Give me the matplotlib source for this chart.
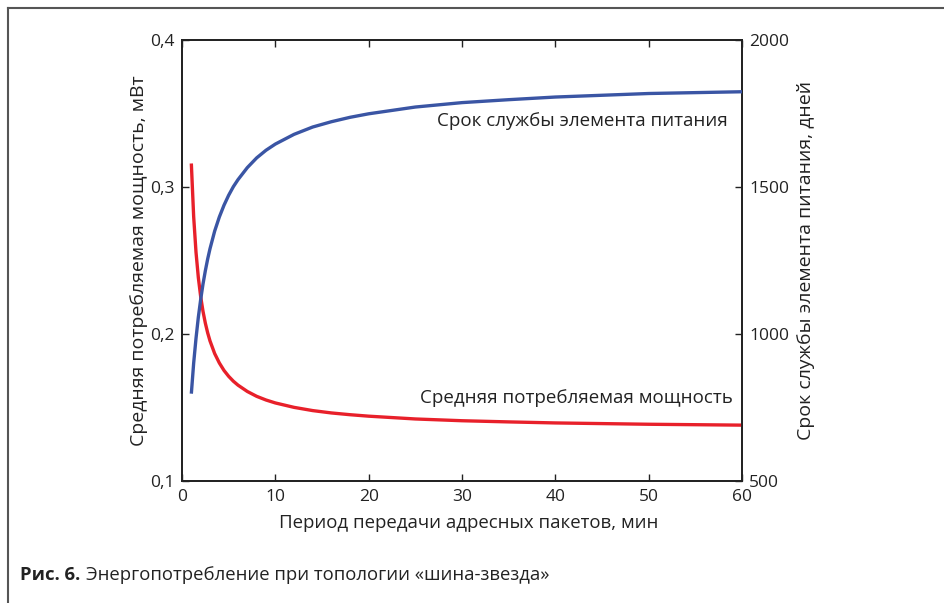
import matplotlib
matplotlib.use("Agg")
import matplotlib.pyplot as plt
from matplotlib.lines import Line2D

plt.rcParams['font.family'] = ['Open Sans', 'DejaVu Sans']

period = [1, 1.25, 1.5, 1.75, 2, 2.25, 2.5, 2.75, 3, 3.5, 4, 4.5, 5, 5.5, 6, 7, 8, 9,
          10, 12, 14, 16, 18, 20, 25, 30, 35, 40, 50, 60]
power = [0.3160, 0.2798, 0.2557, 0.2384, 0.2255, 0.2154, 0.2074, 0.2008, 0.1953, 0.1867,
         0.1803, 0.1752, 0.1712, 0.1679, 0.1652, 0.1609, 0.1576, 0.1551,
         0.1531, 0.1501, 0.1479, 0.1463, 0.1451, 0.1441, 0.1422, 0.1410, 0.1402, 0.1395,
         0.1386, 0.1380]
lifetime = [797, 901, 985, 1057, 1117, 1170, 1215, 1255, 1290, 1350,
            1398, 1438, 1472, 1501, 1525, 1566, 1599, 1625,
            1646, 1679, 1704, 1722, 1737, 1749, 1772, 1787, 1797, 1806, 1818, 1824]
x_ticks = [0, 10, 20, 30, 40, 50, 60]
left_ticks = [0.1, 0.2, 0.3, 0.4]
left_labels = ['0,1', '0,2', '0,3', '0,4']
right_ticks = [500, 1000, 1500, 2000]

W, H = 944, 603
fig = plt.figure(figsize=(W / 100, H / 100), dpi=100)
ax = fig.add_axes([182 / W, 1 - 481 / H, (742 - 182) / W, (481 - 40) / H])
ax2 = ax.twinx()

red = '#e8202a'
blue = '#3a55a4'
ink = '#222222'

ax.plot(period, power, color=red, lw=2.4, solid_capstyle='butt',
        solid_joinstyle='round', zorder=3)
ax2.plot(period, lifetime, color=blue, lw=2.4, solid_capstyle='butt',
         solid_joinstyle='round', zorder=3)

ax.set_xlim(0, 60)
ax.set_ylim(0.1, 0.4)
ax2.set_ylim(500, 2000)
ax.set_xticks(x_ticks)
ax.set_yticks(left_ticks)
ax.set_yticklabels(left_labels)
ax2.set_yticks(right_ticks)

for a in (ax, ax2):
    for s in a.spines.values():
        s.set_linewidth(1.3)
        s.set_color(ink)

ax.tick_params(axis='x', direction='in', top=True, length=5, width=1, labelsize=12.5,
               colors=ink, pad=6)
ax.tick_params(axis='y', direction='in', length=5, width=1, labelsize=12.5,
               colors=ink, pad=5)
ax2.tick_params(axis='y', direction='in', length=5, width=1, labelsize=12.5,
                colors=ink, pad=5)

ax.set_xlabel('Период передачи адресных пакетов, мин', fontsize=13.4, color=ink, labelpad=7)
ax.xaxis.set_label_coords((469 - 182) / (742 - 182), -0.075)
ax.set_ylabel('Средняя потребляемая мощность, мВт', fontsize=14, color=ink, labelpad=2)
ax2.set_ylabel('Срок службы элемента питания, дней', fontsize=14, color=ink, labelpad=6)

ax.text(728 / W, 1 - 121 / H, 'Срок службы элемента питания', transform=fig.transFigure,
        ha='right', va='center', fontsize=13.5, color=ink)
ax.text(733 / W, 1 - 398 / H, 'Средняя потребляемая мощность', transform=fig.transFigure,
        ha='right', va='center', fontsize=13.5, color=ink)

fig.text(20 / W, 1 - 575 / H, 'Рис. 6.', fontsize=13.3, fontweight='bold', color=ink,
         ha='left', va='center')
fig.text(86 / W, 1 - 575 / H, 'Энергопотребление при топологии «шина-звезда»', fontsize=13.3,
         color=ink, ha='left', va='center')

fig.add_artist(Line2D([7.5 / W, 7.5 / W], [0, 1 - 7.5 / H], transform=fig.transFigure,
                      color='#555555', lw=1.5))
fig.add_artist(Line2D([7.5 / W, 1], [1 - 7.5 / H, 1 - 7.5 / H], transform=fig.transFigure,
                      color='#555555', lw=1.5))

fig.savefig('out.png', dpi=100)
